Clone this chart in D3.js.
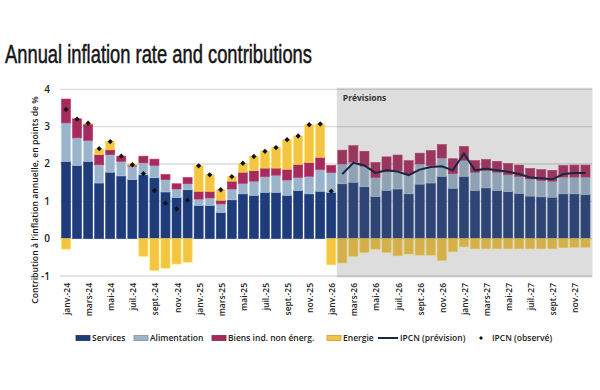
<!DOCTYPE html>
<meta charset="utf-8">
<style>
body { margin: 0; background: #fff; }
text { font-family: "Open Sans", sans-serif; }
.title { font-family: "Liberation Sans Narrow", sans-serif; }
</style>
<body>
<script src="https://d3js.org/d3.v7.min.js"></script>
<script>
var width = 600,
    height = 390;

// months, janv.-24 -> déc.-27
var months = ["janv.-24","févr.-24","mars-24","avr.-24","mai-24","juin-24","juil.-24","août-24","sept.-24","oct.-24","nov.-24","déc.-24",
              "janv.-25","févr.-25","mars-25","avr.-25","mai-25","juin-25","juil.-25","août-25","sept.-25","oct.-25","nov.-25","déc.-25",
              "janv.-26","févr.-26","mars-26","avr.-26","mai-26","juin-26","juil.-26","août-26","sept.-26","oct.-26","nov.-26","déc.-26",
              "janv.-27","févr.-27","mars-27","avr.-27","mai-27","juin-27","juil.-27","août-27","sept.-27","oct.-27","nov.-27","déc.-27"];

var services = [2.07,1.96,2.07,1.49,1.78,1.68,1.58,1.71,1.63,1.25,1.10,1.31,
                0.89,0.89,0.70,1.04,1.20,1.16,1.24,1.24,1.16,1.29,1.20,1.27,
                1.24,1.47,1.51,1.39,1.13,1.29,1.33,1.20,1.46,1.49,1.67,1.35,
                1.67,1.29,1.36,1.29,1.26,1.21,1.14,1.12,1.11,1.20,1.20,1.18];
var alimentation = [1.03,0.74,0.56,0.49,0.47,0.39,0.36,0.32,0.33,0.33,0.23,0.16,
                    0.17,0.20,0.23,0.29,0.28,0.38,0.42,0.46,0.41,0.35,0.47,0.58,
                    0.53,0.53,0.54,0.55,0.51,0.50,0.49,0.53,0.54,0.47,0.49,0.39,
                    0.43,0.49,0.47,0.49,0.45,0.46,0.46,0.44,0.43,0.45,0.45,0.47];
var biens = [0.64,0.51,0.44,0.27,0.13,0.14,0.03,0.18,0.17,0.14,0.14,0.17,
             0.21,0.18,0.10,0.21,0.30,0.28,0.23,0.19,0.29,0.35,0.37,0.33,
             0.19,0.37,0.44,0.40,0.40,0.40,0.42,0.36,0.29,0.40,0.36,0.40,
             0.37,0.31,0.29,0.29,0.30,0.30,0.28,0.29,0.29,0.31,0.32,0.32];
var energie = [-0.28,0.00,0.02,0.15,0.22,0.00,0.03,-0.47,-0.85,-0.79,-0.68,-0.63,
               0.68,0.44,0.28,0.12,0.24,0.39,0.45,0.55,0.79,0.76,1.01,0.89,
               -0.70,-0.65,-0.47,-0.37,-0.28,-0.37,-0.46,-0.41,-0.44,-0.44,-0.58,-0.35,
               -0.22,-0.27,-0.27,-0.27,-0.27,-0.27,-0.27,-0.27,-0.27,-0.24,-0.23,-0.23];

// IPCN observé: janv.-24 -> janv.-26
var ipcnObserve = [3.46,3.20,3.09,2.41,2.60,2.21,1.98,1.74,1.29,0.95,0.80,1.03,
                   1.95,1.71,1.31,1.66,2.02,2.20,2.34,2.44,2.65,2.75,3.05,3.07,1.27];
// IPCN prévision: févr.-26 -> déc.-27
var ipcnPrevision = [1.73,2.03,1.96,1.76,1.83,1.80,1.70,1.85,1.92,1.94,1.83,
                     2.28,1.83,1.87,1.83,1.79,1.73,1.64,1.62,1.59,1.73,1.76,1.76];

var yTicks = [-1, 0, 1, 2, 3, 4];
var seriesNames = ["Services", "Alimentation", "Biens ind. non énerg.", "Energie"];
var colors = ["#1e3c7a", "#9cb4ca", "#a72a5c", "#f4c443"];

var rows = months.map(function(m, i) {
  return {month: m, s0: services[i], s1: alimentation[i], s2: biens[i], s3: energie[i]};
});

var svg = d3.select("body").append("svg")
    .attr("width", width)
    .attr("height", height);

var x = d3.scaleBand()
    .domain(months)
    .range([59.5, 592])
    .padding(0.18);

var y = d3.scaleLinear()
    .domain([-1, 4])
    .range([276, 89.3]);

// title
svg.append("text")
    .attr("class", "title")
    .attr("x", 5)
    .attr("y", 63)
    .attr("font-size", 25)
    .attr("fill", "#151515")
    .attr("stroke", "#151515")
    .attr("stroke-width", 0.5)
    .attr("textLength", 307)
    .attr("lengthAdjust", "spacingAndGlyphs")
    .text("Annual inflation rate and contributions");

// gridlines
svg.append("g").selectAll("line")
    .data(yTicks)
    .enter().append("line")
    .attr("x1", 60).attr("x2", 592)
    .attr("y1", d => y(d)).attr("y2", d => y(d))
    .attr("stroke", "#dadada")
    .attr("stroke-width", 1.3);

// y axis labels
svg.append("g").selectAll("text")
    .data(yTicks)
    .enter().append("text")
    .attr("x", 50)
    .attr("y", d => y(d))
    .attr("dy", "0.35em")
    .attr("text-anchor", "end")
    .attr("font-size", 10)
    .attr("font-weight", 600)
    .attr("fill", "#222")
    .text(d => d);

svg.append("text")
    .attr("transform", "translate(38,200) rotate(-90)")
    .attr("text-anchor", "middle")
    .attr("font-size", 8.7)
    .attr("font-weight", 600)
    .attr("fill", "#1a1a1a")
    .text("Contribution à l'inflation annuelle, en points de %");

// stacked bars
var stack = d3.stack()
    .keys(["s0", "s1", "s2", "s3"])
    .offset(d3.stackOffsetDiverging);

var layers = stack(rows);

svg.append("g").selectAll("g")
    .data(layers)
    .enter().append("g")
    .attr("fill", (d, i) => colors[i])
    .attr("stroke", (d, i) => d3.color(colors[i]).brighter(0.4))
    .attr("stroke-width", 0.6)
    .selectAll("rect")
    .data(d => d)
    .enter().append("rect")
    .attr("x", d => x(d.data.month))
    .attr("width", x.bandwidth())
    .attr("y", d => y(d[1]))
    .attr("height", d => Math.max(0, y(d[0]) - y(d[1])));

// forecast shading
var shadeX = x(months[25]) - x.step() * x.paddingInner() / 2;
svg.append("rect")
    .attr("x", shadeX)
    .attr("y", y(4) - 1.5)
    .attr("width", 592.5 - shadeX)
    .attr("height", y(-1) - y(4) + 3)
    .attr("fill", "rgb(100,100,100)")
    .attr("fill-opacity", 0.22);

svg.append("text")
    .attr("x", shadeX + 6)
    .attr("y", 101)
    .attr("font-size", 8.5)
    .attr("font-weight", 700)
    .attr("fill", "#333")
    .text("Prévisions");

// IPCN prévision line
var line = d3.line()
    .x((d, i) => x(months[i + 25]) + x.bandwidth() / 2)
    .y(d => y(d));

svg.append("path")
    .datum(ipcnPrevision)
    .attr("d", line)
    .attr("fill", "none")
    .attr("stroke", "#1b2640")
    .attr("stroke-width", 2);

// IPCN observé markers
var diamond = d3.symbol().type(d3.symbolDiamond2).size(18);
svg.append("g").selectAll("path")
    .data(ipcnObserve)
    .enter().append("path")
    .attr("transform", (d, i) => "translate(" + (x(months[i]) + x.bandwidth() / 2) + "," + y(d) + ")")
    .attr("d", diamond)
    .attr("fill", "#111");

// x axis labels (every other month)
svg.append("g").selectAll("text")
    .data(months.filter((m, i) => i % 2 === 0))
    .enter().append("text")
    .attr("transform", d => "translate(" + (x(d) + x.bandwidth() / 2 + 1) + ",283) rotate(-90)")
    .attr("dy", "0.35em")
    .attr("text-anchor", "end")
    .attr("font-size", 8.5)
    .attr("font-weight", 600)
    .attr("fill", "#222")
    .text(d => d);

// legend
var legendY = 338;
var legendX = [76, 134, 212, 327];
var legend = svg.append("g");

seriesNames.forEach(function(name, i) {
  legend.append("rect")
      .attr("x", legendX[i])
      .attr("y", legendY - 2.5)
      .attr("width", 14)
      .attr("height", 5)
      .attr("fill", colors[i])
      .attr("stroke", d3.color(colors[i]).darker(0.6))
      .attr("stroke-width", 0.8);
  legend.append("text")
      .attr("x", legendX[i] + 16)
      .attr("y", legendY)
      .attr("dy", "0.35em")
      .attr("font-size", 8.5)
      .attr("font-weight", 600)
      .attr("fill", "#222")
      .text(name);
});

legend.append("line")
    .attr("x1", 378).attr("x2", 398)
    .attr("y1", legendY).attr("y2", legendY)
    .attr("stroke", "#1b2640")
    .attr("stroke-width", 2);
legend.append("text")
    .attr("x", 400)
    .attr("y", legendY)
    .attr("dy", "0.35em")
    .attr("font-size", 8.5)
    .attr("font-weight", 600)
    .attr("fill", "#222")
    .text("IPCN (prévision)");

legend.append("path")
    .attr("transform", "translate(481," + legendY + ")")
    .attr("d", d3.symbol().type(d3.symbolDiamond2).size(10))
    .attr("fill", "#111");
legend.append("text")
    .attr("x", 492)
    .attr("y", legendY)
    .attr("dy", "0.35em")
    .attr("font-size", 8.5)
    .attr("font-weight", 600)
    .attr("fill", "#222")
    .text("IPCN (observé)");
</script>
</body>
